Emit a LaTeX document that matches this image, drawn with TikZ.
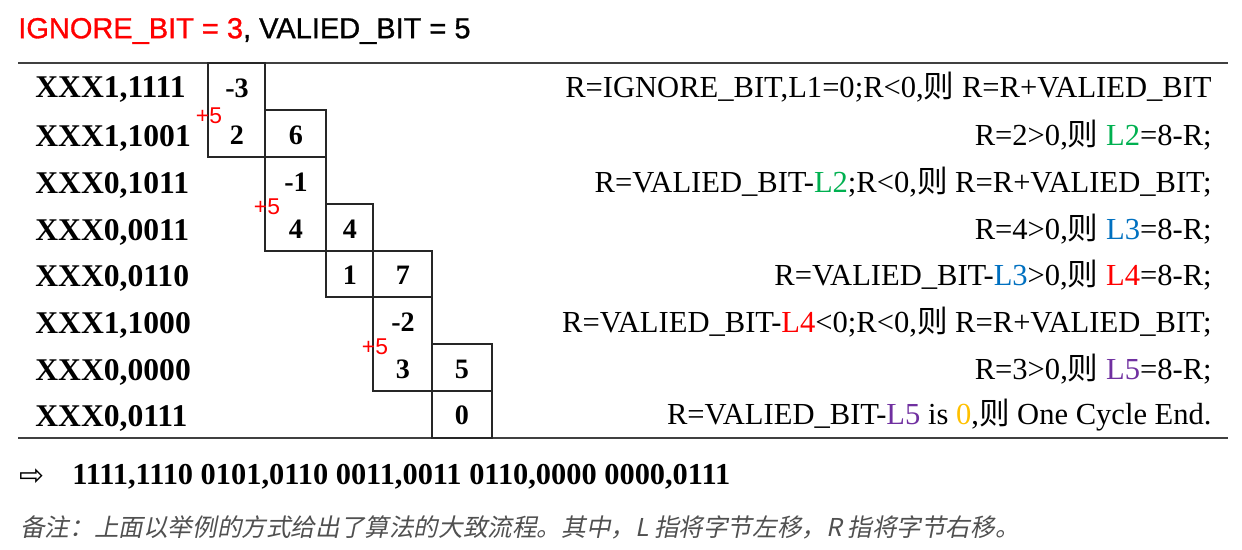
\documentclass[tikz,border=0pt]{standalone}
\usepackage{fontspec}
\setmainfont{Liberation Serif}
\newfontfamily\cjk{Noto Sans CJK SC}
\newfontfamily\cjkslant[FakeSlant=0.2]{Noto Sans CJK SC}
\newfontfamily\headfont[FakeBold=1]{Liberation Sans}
\newfontfamily\plainsans{Liberation Sans}
\newfontfamily\symfont{DejaVu Sans}
\definecolor{offgreen}{RGB}{0,176,80}
\definecolor{offblue}{RGB}{0,112,192}
\definecolor{offpurple}{RGB}{112,48,160}
\definecolor{offorange}{RGB}{255,192,0}
\definecolor{notegray}{RGB}{80,80,80}
\newcommand{\ze}{{\cjk 则}}
\tikzset{
  rowlabel/.style={anchor=west, inner sep=0pt, font=\fontsize{18}{20}\selectfont\bfseries},
  rowtext/.style={anchor=east, inner sep=0pt, font=\fontsize{17.4}{19}\selectfont},
  cellnum/.style={inner sep=0pt, font=\fontsize{16}{18}\selectfont\bfseries},
  plusfive/.style={inner sep=0pt, text=red, font=\plainsans\fontsize{13}{14}\selectfont},
  cellbox/.style={draw=black!85, line width=0.8pt},
  rule/.style={draw=black!75, line width=0.8pt}
}
\begin{document}
\begin{tikzpicture}[x=0.02cm, y=-0.02cm]
    \useasboundingbox (0,0) rectangle (1242,550);

    % heading
    \node[anchor=west, inner sep=0pt, font=\headfont\fontsize{16.5}{18}\selectfont] (head) at (18,31)
        {\textcolor{red}{IGNORE\_BIT = 3}, VALIED\_BIT = 5};

    % rules
    \draw[rule] (18,63) -- (1228,63);
    \draw[rule] (18,438) -- (1228,438);

    % row labels
    \node[rowlabel] (x1) at (35,90) {XXX1,1111};
    \node[rowlabel] (x2) at (35,138) {XXX1,1001};
    \node[rowlabel] (x3) at (35,185) {XXX0,1011};
    \node[rowlabel] (x4) at (35,232) {XXX0,0011};
    \node[rowlabel] (x5) at (35,278) {XXX0,0110};
    \node[rowlabel] (x6) at (35,325) {XXX1,1000};
    \node[rowlabel] (x7) at (35,372) {XXX0,0000};
    \node[rowlabel] (x8) at (35,418) {XXX0,0111};

    % staircase of boxes
    \draw[cellbox] (208,63) rectangle (265,157);
    \draw[cellbox] (265,110) rectangle (326,157);
    \draw[cellbox] (265,157) rectangle (326,251);
    \draw[cellbox] (326,204) rectangle (373,251);
    \draw[cellbox] (326,251) rectangle (373,297);
    \draw[cellbox] (373,251) rectangle (432,297);
    \draw[cellbox] (373,297) rectangle (432,391);
    \draw[cellbox] (432,344) rectangle (492,391);
    \draw[cellbox] (432,391) rectangle (492,438);

    \node[cellnum] (c1) at (237,88) {-3};
    \node[cellnum] (c2) at (237,135) {2};
    \node[cellnum] (c3) at (296,135) {6};
    \node[cellnum] (c4) at (296,182) {-1};
    \node[cellnum] (c5) at (296,229) {4};
    \node[cellnum] (c6) at (350,229) {4};
    \node[cellnum] (c7) at (350,275) {1};
    \node[cellnum] (c8) at (403,275) {7};
    \node[cellnum] (c9) at (403,322) {-2};
    \node[cellnum] (c10) at (403,369) {3};
    \node[cellnum] (c11) at (462,369) {5};
    \node[cellnum] (c12) at (462,415) {0};

    \node[plusfive] (p1) at (209,116) {+5};
    \node[plusfive] (p2) at (267,207) {+5};
    \node[plusfive] (p3) at (375,347) {+5};

    % steps on the right
    \node[rowtext] (r1) at (1212,87) {R=IGNORE\_BIT,L1=0;R<0,\ze{} R=R+VALIED\_BIT};
    \node[rowtext] (r2) at (1212,135) {R=2>0,\ze{} \textcolor{offgreen}{L2}=8-R;};
    \node[rowtext] (r3) at (1212,182) {R=VALIED\_BIT-\textcolor{offgreen}{L2};R<0,\ze{} R=R+VALIED\_BIT;};
    \node[rowtext] (r4) at (1212,229) {R=4>0,\ze{} \textcolor{offblue}{L3}=8-R;};
    \node[rowtext] (r5) at (1212,275) {R=VALIED\_BIT-\textcolor{offblue}{L3}>0,\ze{} \textcolor{red}{L4}=8-R;};
    \node[rowtext] (r6) at (1212,322) {R=VALIED\_BIT-\textcolor{red}{L4}<0;R<0,\ze{} R=R+VALIED\_BIT;};
    \node[rowtext] (r7) at (1212,369) {R=3>0,\ze{} \textcolor{offpurple}{L5}=8-R;};
    \node[rowtext] (r8) at (1212,415) {R=VALIED\_BIT-\textcolor{offpurple}{L5} is \textcolor{offorange}{0},\ze{} One Cycle End.};

    % result and note
    \node[anchor=west, inner sep=0pt, font=\symfont\fontsize{17}{18}\selectfont] (arrow) at (19,477) {⇨};
    \node[anchor=west, inner sep=0pt, font=\fontsize{17.3}{19}\selectfont\bfseries] (result) at (72,477)
        {1111,1110 0101,0110 0011,0011 0110,0000 0000,0111};
    \node[anchor=west, inner sep=0pt, text=notegray, font=\cjkslant\fontsize{14}{16}\selectfont] (note) at (20,527)
        {备注：上面以举例的方式给出了算法的大致流程。其中，L 指将字节左移，R 指将字节右移。};
\end{tikzpicture}
\end{document}
